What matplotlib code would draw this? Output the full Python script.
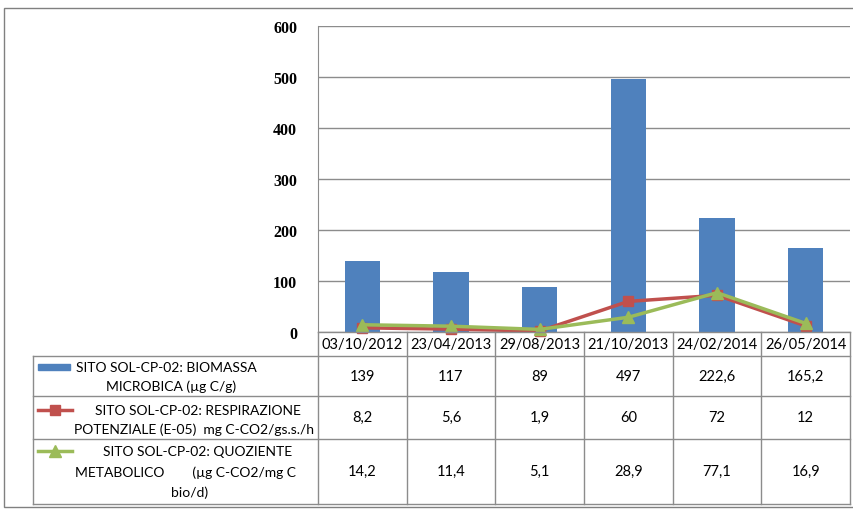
import matplotlib
matplotlib.use("Agg")
import matplotlib.pyplot as plt
from matplotlib.lines import Line2D
from matplotlib.patches import Rectangle

dates = ["03/10/2012", "23/04/2013", "29/08/2013", "21/10/2013", "24/02/2014", "26/05/2014"]
biomassa = [139, 117, 89, 497, 222.6, 165.2]
respirazione = [8.2, 5.6, 1.9, 60, 72, 12]
quoziente = [14.2, 11.4, 5.1, 28.9, 77.1, 16.9]
biomassa_lbl = ["139", "117", "89", "497", "222,6", "165,2"]
respirazione_lbl = ["8,2", "5,6", "1,9", "60", "72", "12"]
quoziente_lbl = ["14,2", "11,4", "5,1", "28,9", "77,1", "16,9"]
yticks = [0, 100, 200, 300, 400, 500, 600]

W, H = 854, 510
BLUE, RED, GREEN = "#4F81BD", "#C0504D", "#9BBB59"
GRID = "#8C8C8C"
TXT = "Lato"

fig = plt.figure(figsize=(W / 100, H / 100), dpi=100)

def fx(x):
    return x / W

def fy(y):
    return 1 - y / H

ax_l, ax_r, ax_t, ax_b = 318, 850, 27, 333
ax = fig.add_axes([fx(ax_l), fy(ax_b), fx(ax_r - ax_l), fy(ax_t) - fy(ax_b)])
x = list(range(len(dates)))
ax.bar(x, biomassa, width=0.4, color=BLUE, zorder=2)
ax.plot(x, respirazione, color=RED, lw=2.5, marker="s", ms=7.5, zorder=3, clip_on=False)
ax.plot(x, quoziente, color=GREEN, lw=2.5, marker="^", ms=8.5, zorder=4, clip_on=False)
ax.set_xlim(-0.5, len(dates) - 0.5)
ax.set_ylim(0, 600)
ax.set_yticks(yticks)
ax.set_yticklabels([str(v) for v in yticks], family="Liberation Serif", fontsize=11.5,
                   fontweight="bold")
ax.tick_params(axis="y", length=0, pad=15)
ax.set_xticks([])
ax.grid(axis="y", color=GRID, lw=1, zorder=0)
for s in ["top", "right", "bottom"]:
    ax.spines[s].set_visible(False)
ax.spines["left"].set_color(GRID)
ax.set_axisbelow(True)

# outer border
fig.add_artist(Rectangle((fx(4), fy(508)), fx(850), fy(9) - fy(508), fill=False,
                         edgecolor="#808080", lw=1, transform=fig.transFigure))

def hline(x0, x1, y):
    fig.add_artist(Line2D([fx(x0), fx(x1)], [fy(y), fy(y)], color=GRID, lw=1))

def vline(x0, y0, y1):
    fig.add_artist(Line2D([fx(x0), fx(x0)], [fy(y0), fy(y1)], color=GRID, lw=1))

col_w = (ax_r - ax_l) / len(dates)
rows = [333, 357, 397, 440, 505]
tab_l = 33
hline(ax_l, ax_r, rows[0])
for r in rows[1:]:
    hline(tab_l, ax_r, r)
vline(tab_l, rows[1], rows[-1])
for i in range(len(dates) + 1):
    vline(ax_l + i * col_w, rows[0], rows[-1])

for i, d in enumerate(dates):
    cx = ax_l + (i + 0.5) * col_w
    fig.text(fx(cx), fy(345), d, ha="center", va="center", family=TXT, fontsize=10.5)
    fig.text(fx(cx), fy(377), biomassa_lbl[i], ha="center", va="center", family=TXT, fontsize=10.5)
    fig.text(fx(cx), fy(418), respirazione_lbl[i], ha="center", va="center", family=TXT, fontsize=10.5)
    fig.text(fx(cx), fy(472), quoziente_lbl[i], ha="center", va="center", family=TXT, fontsize=10.5)

# legend keys
fig.add_artist(Rectangle((fx(38), fy(371)), fx(32), fy(365) - fy(371), color=BLUE,
                         transform=fig.transFigure))
fig.add_artist(Line2D([fx(38), fx(72)], [fy(411), fy(411)], color=RED, lw=2.5))
fig.add_artist(Line2D([fx(55)], [fy(411)], color=RED, marker="s", ms=7.5, lw=0))
fig.add_artist(Line2D([fx(38), fx(72)], [fy(452), fy(452)], color=GREEN, lw=2.5))
fig.add_artist(Line2D([fx(55)], [fy(452)], color=GREEN, marker="^", ms=8.5, lw=0))

fs = 10
fig.text(fx(166), fy(368), "SITO SOL-CP-02: BIOMASSA", ha="center", va="center", family=TXT, fontsize=fs)
fig.text(fx(171), fy(387), "MICROBICA (µg C/g)", ha="center", va="center", family=TXT, fontsize=fs)
fig.text(fx(198), fy(411), "SITO SOL-CP-02: RESPIRAZIONE", ha="center", va="center", family=TXT, fontsize=fs)
fig.text(fx(194), fy(430), "POTENZIALE (E-05)  mg C-CO2/gs.s./h", ha="center", va="center", family=TXT, fontsize=fs)
fig.text(fx(198), fy(452), "SITO SOL-CP-02: QUOZIENTE", ha="center", va="center", family=TXT, fontsize=fs)
fig.text(fx(186), fy(473), "METABOLICO        (µg C-CO2/mg C", ha="center", va="center", family=TXT, fontsize=fs)
fig.text(fx(190), fy(493), "bio/d)", ha="center", va="center", family=TXT, fontsize=fs)

fig.savefig("out.png", dpi=100)
